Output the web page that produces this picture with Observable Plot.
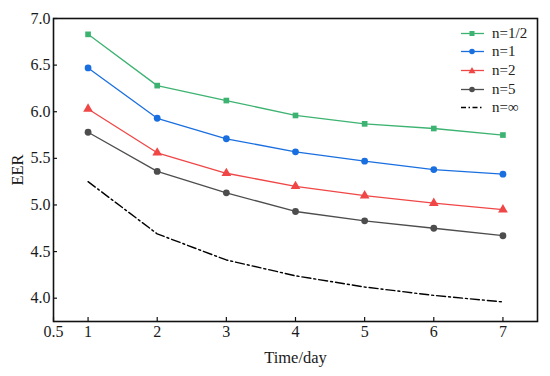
<!DOCTYPE html>
<html>
<head>
<meta charset="utf-8">
<script src="https://cdn.jsdelivr.net/npm/d3@7"></script>
<script src="https://cdn.jsdelivr.net/npm/@observablehq/plot@0.6"></script>
<style>
  html, body { margin: 0; padding: 0; background: #fff; }
  #wrap { position: relative; width: 550px; height: 376px; font-family: "Liberation Serif", serif; }
  #wrap svg text { font-family: "Liberation Serif", serif !important; fill: #1a1a1a; }
  #legend { position: absolute; left: 461px; top: 24px; font-size: 15px; color: #222; font-family: "Liberation Serif", serif; }
  #legend .row { display: flex; align-items: center; height: 18.6px; }
  #legend svg { margin-right: 8px; }
</style>
</head>
<body>
<div id="wrap"></div>
<script>
const days = [1, 2, 3, 4, 5, 6, 7];
const seriesNames = ["n=1/2", "n=1", "n=2", "n=5", "n=∞"];
const valsHalf = [6.83, 6.28, 6.12, 5.96, 5.87, 5.82, 5.75];
const vals1    = [6.47, 5.93, 5.71, 5.57, 5.47, 5.38, 5.33];
const vals2    = [6.03, 5.56, 5.34, 5.20, 5.10, 5.02, 4.95];
const vals5    = [5.78, 5.36, 5.13, 4.93, 4.83, 4.75, 4.67];
const valsInf  = [5.25, 4.69, 4.41, 4.24, 4.12, 4.03, 3.96];
const xTicks = [0.5, 1, 2, 3, 4, 5, 6, 7];
const yTicks = [4.0, 4.5, 5.0, 5.5, 6.0, 6.5, 7.0];

const styles = [
  {color: "#3cb371", symbol: "square", r: 3.2, dash: null},
  {color: "#1a6fe0", symbol: "circle", r: 3.4, dash: null},
  {color: "#f04646", symbol: "triangle", r: 3.6, dash: null},
  {color: "#4d4d4d", symbol: "circle", r: 3.4, dash: null},
  {color: "#000000", symbol: null, r: 0, dash: "9,3,2,3"}
];
const allVals = [valsHalf, vals1, vals2, vals5, valsInf];
const data = [];
allVals.forEach((vs, i) => vs.forEach((v, j) => data.push({series: seriesNames[i], idx: i, day: days[j], eer: v})));

const W = 550, H = 376, mL = 53, mR = 13, mT = 18, mB = 55;
const plotW = W - mL - mR, plotH = H - mT - mB;

const marks = [];
styles.forEach((s, i) => {
  const d = data.filter(e => e.idx === i);
  marks.push(Plot.line(d, {x: "day", y: "eer", stroke: s.color, strokeWidth: s.dash ? 1.4 : 1.3, strokeDasharray: s.dash}));
  if (s.symbol) marks.push(Plot.dot(d, {x: "day", y: "eer", fill: s.color, stroke: "none", symbol: s.symbol, r: s.r}));
});

const chart = Plot.plot({
  width: W, height: H,
  marginLeft: mL, marginRight: mR, marginTop: mT, marginBottom: mB,
  style: {fontFamily: "'Liberation Serif', serif", fontSize: "15px", color: "#1a1a1a", background: "#fff"},
  x: {domain: [0.5, 7.5]},
  y: {domain: [3.75, 7.0]},
  marks: [
    ...marks,
    Plot.tickX(xTicks, {x: d => d, insetTop: plotH - 4, stroke: "#111", strokeWidth: 1.2}),
    Plot.tickY(yTicks, {y: d => d, insetRight: plotW - 4, stroke: "#111", strokeWidth: 1.2}),
    Plot.frame({stroke: "#111", strokeWidth: 1.6}),
    Plot.axisX(xTicks, {tickSize: 0, tickPadding: 4, fontSize: 16, tickFormat: d => String(d), label: null}),
    Plot.axisY(yTicks, {tickSize: 0, tickPadding: 3, fontSize: 16, tickFormat: d => d.toFixed(1), label: null}),
    Plot.axisX({ticks: [], fontSize: 16.5, label: "Time/day", labelAnchor: "center", labelArrow: "none", labelOffset: 41}),
    Plot.axisY({ticks: [], fontSize: 16.5, label: "EER", labelAnchor: "center", labelArrow: "none", labelOffset: 42})
  ]
});
const wrap = document.getElementById("wrap");
wrap.appendChild(chart);

const legend = document.createElement("div");
legend.id = "legend";
styles.forEach((s, i) => {
  const row = document.createElement("div");
  row.className = "row";
  let sym = "";
  if (s.symbol === "square") sym = `<rect x="8.5" y="4" width="5" height="5" fill="${s.color}"/>`;
  else if (s.symbol === "circle") sym = `<circle cx="11" cy="6.5" r="2.8" fill="${s.color}"/>`;
  else if (s.symbol === "triangle") sym = `<path d="M11,3 L14.5,9.3 L7.5,9.3 Z" fill="${s.color}"/>`;
  const dash = s.dash ? `stroke-dasharray="5,2.5,1.5,2.5"` : "";
  row.innerHTML = `<svg width="23" height="13"><line x1="0" x2="23" y1="6.5" y2="6.5" stroke="${s.color}" stroke-width="1.3" ${dash}/>${sym}</svg><span>${seriesNames[i]}</span>`;
  legend.appendChild(row);
});
wrap.appendChild(legend);
</script>
</body>
</html>
